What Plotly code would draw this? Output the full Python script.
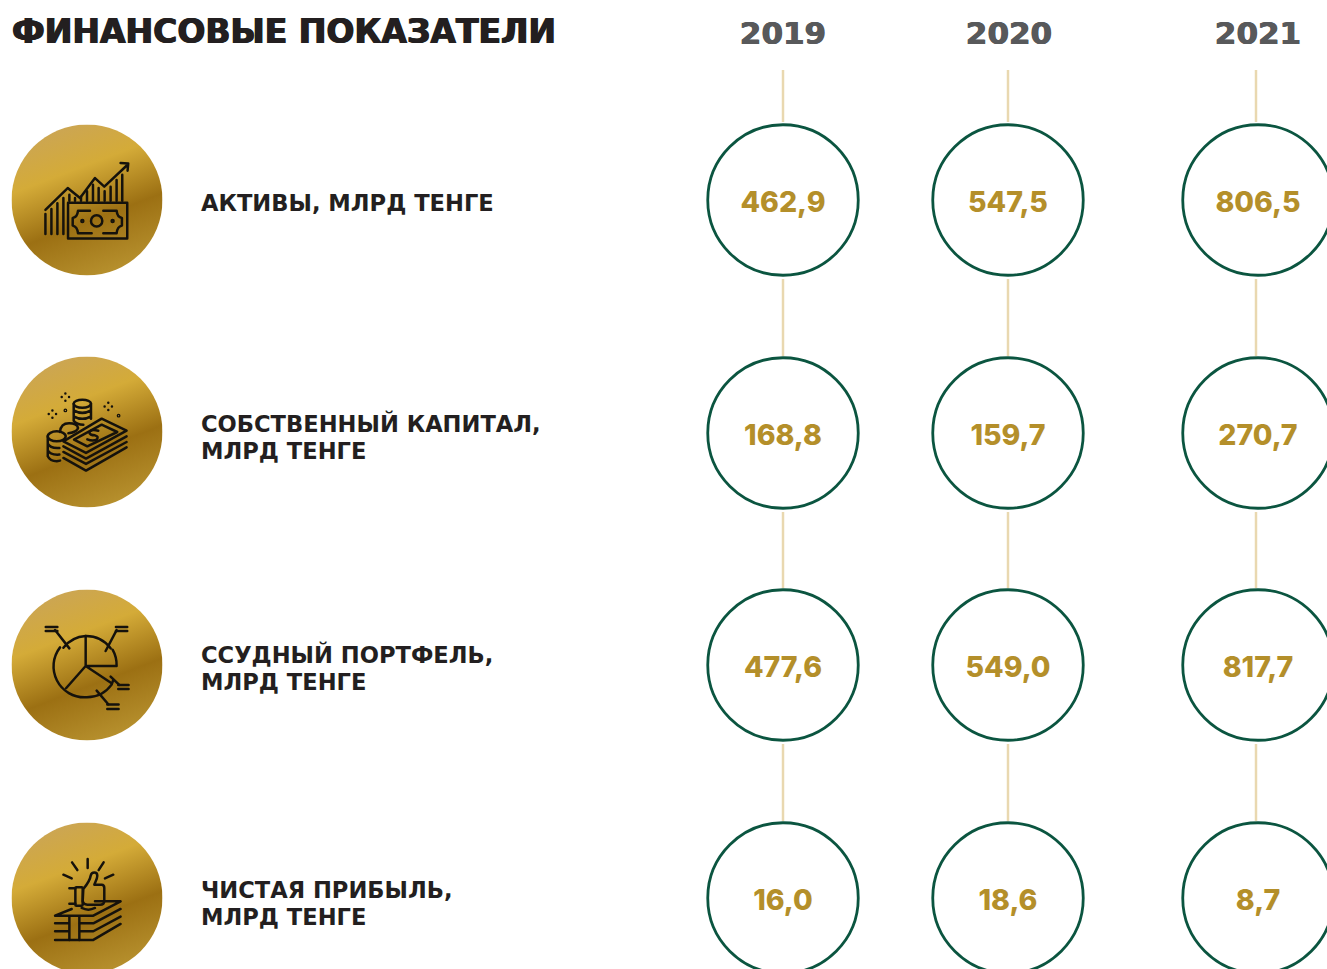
import base64
import plotly.graph_objects as go

# ---------- data ----------
TITLE = "ФИНАНСОВЫЕ ПОКАЗАТЕЛИ"
YEARS = ["2019", "2020", "2021"]
METRIC_LINE_1 = ["АКТИВЫ, МЛРД ТЕНГЕ", "СОБСТВЕННЫЙ КАПИТАЛ,", "ССУДНЫЙ ПОРТФЕЛЬ,", "ЧИСТАЯ ПРИБЫЛЬ,"]
METRIC_LINE_2 = ["", "МЛРД ТЕНГЕ", "МЛРД ТЕНГЕ", "МЛРД ТЕНГЕ"]
VALUES_2019 = [462.9, 168.8, 477.6, 16.0]
VALUES_2020 = [547.5, 159.7, 549.0, 18.6]
VALUES_2021 = [806.5, 270.7, 817.7, 8.7]

# ---------- layout ----------
W, H = 1327, 969
COL_X = [783, 1008, 1258]
LINE_X = [783, 1008, 1256]
ROW_Y = [200, 433, 665, 898]
R = 76
ICON_X = 87
ICON_Y = [200, 432, 665, 898]
ICON_SIZE = 151
LABEL_X = 201
LABEL_Y1 = [205, 426, 657, 892]
LINE_GAP = 27
HEAD_FONT = "DejaVu Sans"
VALUE_FONT = "Inter"
GREEN, GOLD, GREY, INK, TAN = "#0b5540", "#b48f2a", "#58595b", "#231f20", "#e9d8b0"


def fmt(v):
    return f"{v:.1f}".replace(".", ",")


def heavy(color, d):
    return f"{d}px 0 0 {color}, -{d}px 0 0 {color}"


# ---------- icons (drawn in a 3x local space) ----------
ICON_BODIES = [
    (261, 268, """
<path d="M136 298L203 232L240 262L285 202L313 228L383 162M362 157L385 158L383 180"/>
<path d="M136 310V370M154 295V370M172 278V370M190 262V370M208 252V270M225 262V270M243 258V270M261 242V270M279 222V270M296 232V270M314 242V270M332 228V270M350 208V270M367 192V270"/>
<rect x="204" y="276" width="178" height="108"/>
<path d="M270 300H234Q232 320 218 322V345Q232 348 234 368H275M310 368H350Q352 348 366 345V322Q352 320 350 300H310"/>
<circle cx="290" cy="331" r="17"/><circle cx="247" cy="331" r="3"/><circle cx="338" cy="331" r="3"/>"""),
    (261, 262, """
<ellipse cx="170" cy="275" rx="27" ry="15"/>
<path d="M143 275V335Q150 350 170 350L180 348M143 297Q150 312 178 310M143 317Q150 332 178 330"/>
<path d="M180 262Q182 236 207 236Q232 236 234 250Q232 262 205 266"/>
<ellipse cx="247" cy="177" rx="26" ry="12"/>
<path d="M221 177V228Q230 240 250 240M273 177V222M221 197Q247 212 273 197M221 215Q247 230 273 215"/>
<path d="M190 290L305 222L380 258L258 325Z"/>
<path d="M222 285L305 240L352 262L262 305Z"/>
<path d="M295 258Q270 252 268 264Q270 272 285 272Q298 276 290 285Q278 290 262 284"/>
<path d="M190 305L258 342L380 275M190 322L258 358L380 292M190 340L258 378L380 308"/>
<path d="M196 146h0M196 168h0M185 157h0M207 157h0M157 197h0M157 219h0M146 208h0M168 208h0M325 174h0M325 196h0M314 185h0M336 185h0"/>
<circle cx="196" cy="197" r="2"/><circle cx="356" cy="213" r="2"/>"""),
    (261, 255, """
<path d="M190 203A93 93 0 0 1 257 168A93 93 0 0 1 332 205M338 209A93 93 0 0 1 350 258M340 300L335 314A93 93 0 0 1 257 352A93 93 0 0 1 180 202"/>
<path d="M257 168V258L347 258M257 258L335 310M257 258L198 325"/>
<path d="M208 205L165 150M317 213L350 150M332 290L358 315M290 332L325 373"/>
<path d="M137 141H172M137 153H172M348 141H382M348 153H382M355 315H386M355 327H386M322 374H356M322 387H356"/>"""),
    (261, 262, """
<path d="M263 145V172M216 155L232 178M311 155L296 178M190 192L215 203M340 192L315 203"/>
<path d="M250 235C262 220 270 210 272 195C275 182 292 182 292 195C292 205 285 215 283 222H305Q313 222 313 232V270Q313 282 300 282H262Q250 282 248 272Z"/>
<rect x="226" y="230" width="22" height="55" rx="3"/>
<path d="M208 233H226M208 279H226M245 292Q265 302 285 292"/>
<path d="M165 315H280L362 272H285M165 315L215 295"/>
<path d="M165 338H205M165 362H205M165 388H280L362 340M240 338H280L362 295M240 362H280L362 318"/>
<path d="M208 318V388M238 318V388"/>"""),
]


def icon_uri(index):
    cx, cy, body = ICON_BODIES[index]
    svg = f"""<svg xmlns="http://www.w3.org/2000/svg" viewBox="{cx-227} {cy-227} 454 454" width="454" height="454">
<defs><linearGradient id="g" gradientUnits="objectBoundingBox" x1="0.3" y1="0" x2="0.68" y2="1">
<stop offset="0" stop-color="#cba555"/><stop offset="0.3" stop-color="#d4ab38"/>
<stop offset="0.63" stop-color="#9c7013"/><stop offset="1" stop-color="#b8922f"/></linearGradient></defs>
<circle cx="{cx}" cy="{cy}" r="227" fill="url(#g)"/>
<g fill="none" stroke="#15120c" stroke-width="7.5" stroke-linecap="round" stroke-linejoin="round">{body}</g></svg>"""
    return "data:image/svg+xml;base64," + base64.b64encode(svg.encode()).decode()


# ---------- figure ----------
fig = go.Figure()
series = [VALUES_2019, VALUES_2020, VALUES_2021]

# connector lines
line_x, line_y = [], []
for x in LINE_X:
    line_x += [x, x, None]
    line_y += [70, ROW_Y[0] - R - 2, None]
    for a, b in zip(ROW_Y[:-1], ROW_Y[1:]):
        line_x += [x, x, None]
        line_y += [a + R + 3, b - R - 1, None]
fig.add_trace(go.Scatter(x=line_x, y=line_y, mode="lines", line=dict(color=TAN, width=2.5), hoverinfo="skip"))

# value circles and numbers
for x, values in zip(COL_X, series):
    fig.add_trace(go.Scatter(
        x=[x] * len(values), y=ROW_Y, mode="markers",
        marker=dict(size=150.5, color="white", line=dict(color=GREEN, width=2.8)),
        hoverinfo="skip",
    ))
    fig.add_trace(go.Scatter(
        x=[x] * len(values), y=[y + 4.5 for y in ROW_Y], mode="text",
        text=[fmt(v) for v in values], textposition="middle center",
        textfont=dict(family=VALUE_FONT, size=28.5, color=GOLD, weight=800),
        hoverinfo="skip",
    ))

# years
fig.add_trace(go.Scatter(
    x=[783, 1009, 1258], y=[36] * 3, mode="text", text=YEARS, textposition="middle center",
    textfont=dict(family=HEAD_FONT, size=31, color=GREY, weight="bold", shadow=heavy(GREY, 0.5)),
    hoverinfo="skip",
))

# metric labels
label_text = METRIC_LINE_1 + METRIC_LINE_2
label_y = LABEL_Y1 + [y + LINE_GAP for y in LABEL_Y1]
fig.add_trace(go.Scatter(
    x=[LABEL_X] * len(label_text), y=label_y, mode="text", text=label_text, textposition="middle right",
    textfont=dict(family=HEAD_FONT, size=22.6, color=INK, weight="bold"), hoverinfo="skip",
))

# title
fig.add_trace(go.Scatter(
    x=[12], y=[34.5], mode="text", text=[TITLE], textposition="middle right",
    textfont=dict(family=HEAD_FONT, size=33, color=INK, weight="bold", shadow=heavy(INK, 0.7)),
    hoverinfo="skip",
))

images = [
    dict(source=icon_uri(i), xref="x", yref="y", x=ICON_X, y=y, sizex=ICON_SIZE, sizey=ICON_SIZE,
         xanchor="center", yanchor="middle", sizing="stretch", layer="above")
    for i, y in enumerate(ICON_Y)
]

fig.update_layout(
    width=W, height=H, margin=dict(l=0, r=0, t=0, b=0), showlegend=False,
    paper_bgcolor="white", plot_bgcolor="white", images=images,
    xaxis=dict(range=[0, W], visible=False, fixedrange=True),
    yaxis=dict(range=[H, 0], visible=False, fixedrange=True),
)
fig.write_html("out.html", config=dict(displayModeBar=False),
               post_script="document.body.style.margin='0';document.body.style.overflow='hidden';")
